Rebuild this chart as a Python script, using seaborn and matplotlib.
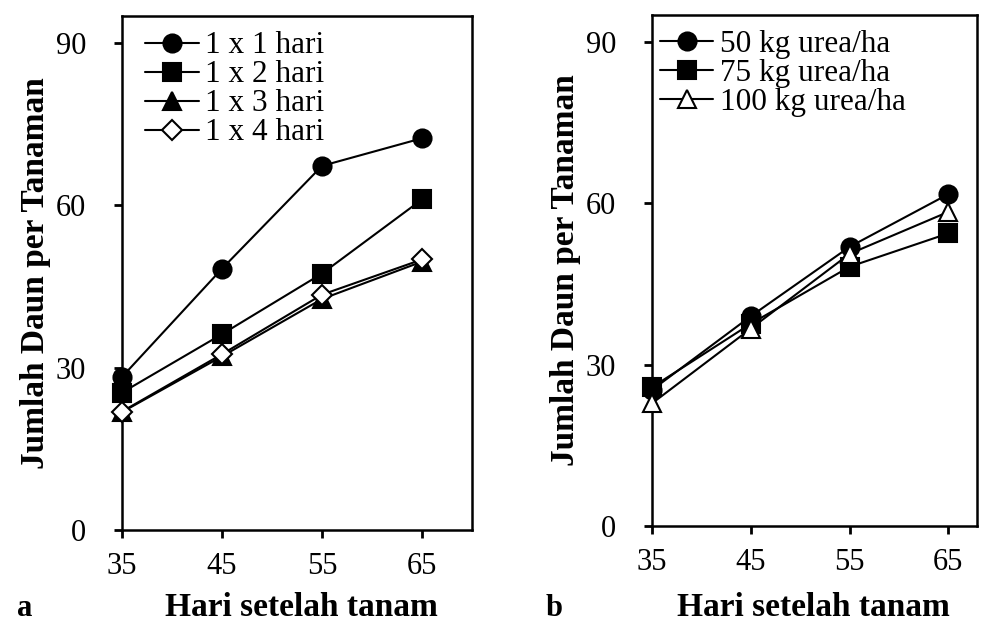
import matplotlib
matplotlib.use("Agg")
import matplotlib.pyplot as plt
import seaborn as sns
import pandas as pd

days = [35, 45, 55, 65]

# Panel a: watering interval
a_labels = ["1 x 1 hari", "1 x 2 hari", "1 x 3 hari", "1 x 4 hari"]
a_1x1 = [28.3, 48.3, 67.3, 72.4]
a_1x2 = [25.4, 36.2, 47.4, 61.1]
a_1x3 = [21.8, 32.1, 42.7, 49.6]
a_1x4 = [21.9, 32.5, 43.5, 50.0]

# Panel b: urea dose
b_labels = ["50 kg urea/ha", "75 kg urea/ha", "100 kg urea/ha"]
b_50 = [25.3, 39.0, 51.9, 61.7]
b_75 = [25.8, 37.6, 48.2, 54.4]
b_100 = [22.8, 36.7, 50.6, 58.4]

yticks = [0, 30, 60, 90]
xticks = [35, 45, 55, 65]

sns.set_theme(style="ticks", rc={"text.color": "black", "axes.labelcolor": "black",
                                 "xtick.color": "black", "ytick.color": "black",
                                 "axes.edgecolor": "black"})
plt.rcParams["font.family"] = ["Liberation Serif", "DejaVu Serif"]

fig = plt.figure(figsize=(9.89, 6.27), dpi=100)
axA = fig.add_axes([0.1234, 0.1547, 0.3539, 0.8198])
axB = fig.add_axes([0.6593, 0.1611, 0.3286, 0.815])

styles_a = [("o", "black", 13), ("s", "black", 12.5), ("^", "black", 12.5), ("D", "white", 10)]
styles_b = [("o", "black", 13), ("s", "black", 12.5), ("^", "white", 13)]

def draw(ax, labels, series, styles, xmax, leg_x):
    rows = []
    for lab, vals in zip(labels, series):
        for d, v in zip(days, vals):
            rows.append({"day": d, "val": v, "grp": lab})
    df = pd.DataFrame(rows)
    for lab, (mk, fc, ms) in zip(labels, styles):
        sub = df[df["grp"] == lab]
        sns.lineplot(data=sub, x="day", y="val", ax=ax, color="black", lw=1.5,
                     marker=mk, markersize=ms, markerfacecolor=fc,
                     markeredgecolor="black", markeredgewidth=1.5, label=lab,
                     clip_on=False, zorder=3)
    ax.set_xlim(35, xmax)
    ax.set_ylim(0, 95)
    ax.set_xticks(xticks)
    ax.set_yticks(yticks)
    ax.tick_params(axis="x", direction="out", length=6, width=2, labelsize=22, pad=10)
    ax.tick_params(axis="y", direction="out", length=6, width=2, labelsize=22, pad=20)
    for s in ax.spines.values():
        s.set_linewidth(1.8)
        s.set_color("black")
    ax.set_xlabel("")
    ax.set_ylabel("Jumlah Daun per Tanaman", fontsize=24, fontweight="bold", labelpad=3)
    ax.legend(loc="upper left", bbox_to_anchor=(leg_x, 0.982), frameon=False,
              fontsize=22.5, handlelength=1.7, handletextpad=0.2, labelspacing=0.0,
              borderaxespad=0.0, borderpad=0.2)
    ax.grid(False)

draw(axA, a_labels, [a_1x1, a_1x2, a_1x3, a_1x4], styles_a, 70, 0.049)
draw(axB, b_labels, [b_50, b_75, b_100], styles_b, 67.9, 0.006)

fig.text(0.305, 0.018, "Hari setelah tanam", ha="center", va="baseline",
         fontsize=24, fontweight="bold")
fig.text(0.822, 0.018, "Hari setelah tanam", ha="center", va="baseline",
         fontsize=24, fontweight="bold")
fig.text(0.025, 0.018, "a", ha="center", va="baseline", fontsize=22, fontweight="bold")
fig.text(0.56, 0.018, "b", ha="center", va="baseline", fontsize=22, fontweight="bold")

fig.savefig("out.png", dpi=100, facecolor="white")
